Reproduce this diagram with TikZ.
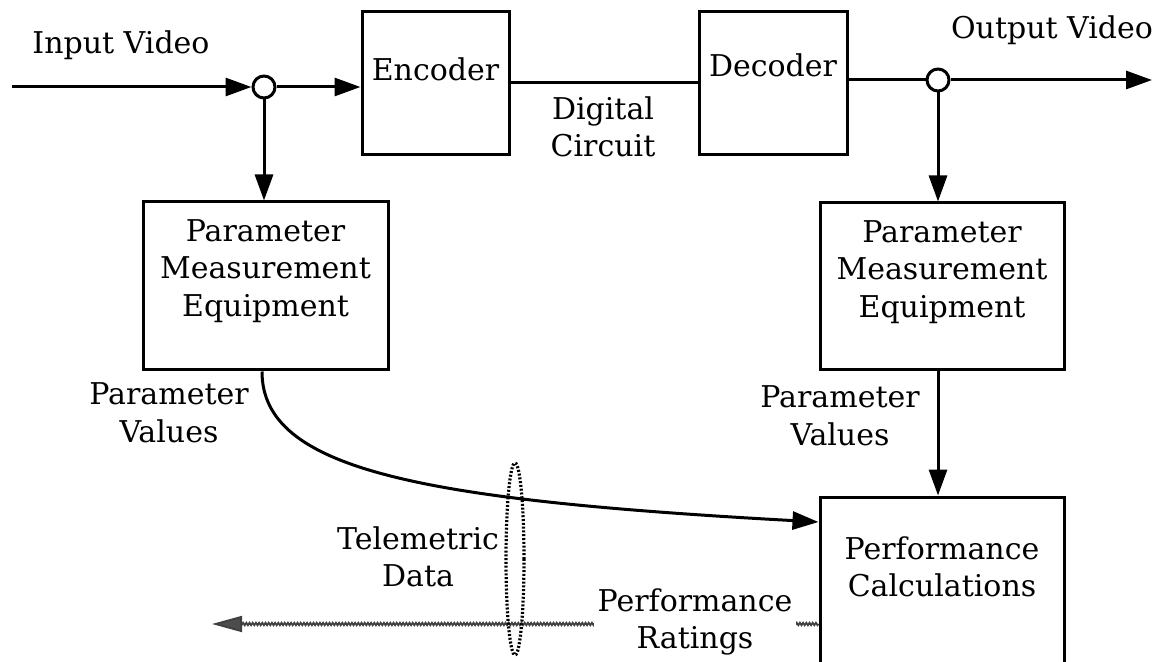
\documentclass[tikz,border=0pt]{standalone}
\usepackage{fontspec}
\setmainfont{DejaVu Serif}
\usetikzlibrary{arrows.meta,decorations.pathmorphing,shapes.geometric}
\begin{document}
\begin{tikzpicture}[x=0.5pt,y=-0.5pt,
  every node/.style={font=\fontsize{15}{18.75}\selectfont},
  box/.style={draw, line width=1.5pt, inner sep=0pt},
  lbl/.style={align=center, inner sep=0pt},
  conn/.style={line width=1.5pt, -{Triangle[length=13pt,width=9pt]}},
  plainline/.style={line width=1.5pt},
  tap/.style={circle, draw, line width=1.5pt, fill=white, minimum size=11pt, inner sep=0pt},
  wavy/.style={draw=black!75, line width=0.9pt, decorate,
    decoration={snake, amplitude=0.6pt, segment length=1.6pt}},
  wavyhead/.style={draw=black!75, line width=0.9pt, -{Triangle[length=15pt,width=8pt,fill=black!70]}},
  telem/.style={ellipse, draw, line width=1.6pt, dash pattern=on 1pt off 0.9pt, inner sep=0pt},
]
\clip (0,0) rectangle (1161,662);
\fill[white] (0,0) rectangle (1161,662);

% boxes
\node[box, minimum width=73.5pt, minimum height=71.5pt] (enc) at (435.5,83.5) {};
\node[box, minimum width=74pt, minimum height=71.5pt] (dec) at (773,83.5) {};
\node[box, minimum width=122.5pt, minimum height=84pt] (pmeL) at (265.5,286) {};
\node[box, minimum width=122pt, minimum height=83.5pt] (pmeR) at (942,286.5) {};
\node[box, minimum width=122pt, minimum height=131.5pt] (pc) at (942,628.5) {};

% texts
\node[lbl] (encT) at (435.5,69) {Encoder};
\node[lbl] (decT) at (773,65) {Decoder};
\node[lbl] (pmeLT) at (265.5,271) {Parameter\\Measurement\\Equipment};
\node[lbl] (pmeRT) at (942,272) {Parameter\\Measurement\\Equipment};
\node[lbl] (pcT) at (942,567) {Performance\\Calculations};
\node[lbl] (inT) at (121,45) {Input Video};
\node[lbl] (outT) at (1052,30) {Output Video};
\node[lbl] (dcT) at (603,127) {Digital\\Circuit};
\node[lbl] (pvL) at (169,413) {Parameter\\Values};
\node[lbl] (pvR) at (840,416) {Parameter\\Values};
\node[lbl] (tdT) at (418,557) {Telemetric\\Data};

% taps
\node[tap] (cL) at (264,87) {};
\node[tap] (cR) at (938,80) {};
\coordinate (inS) at (12,87);
\coordinate (outE) at (1152,80);

% connectors
\draw[conn] (inS) -- (cL);
\draw[conn] (cL) -- (enc.west |- cL);
\draw[plainline] (enc.east |- 0,83) -- (dec.west |- 0,83);
\draw[plainline] (dec.east |- cR) -- (cR);
\draw[conn] (cR) -- (outE);
\draw[conn] (cL) -- (pmeL.north -| cL);
\draw[conn] (cR) -- (pmeR.north -| cR);
\draw[conn] (pmeR.south -| cR) -- (pc.north -| cR);
\draw[conn] (pmeL.south -| 262,0) .. controls (262,470) and (420,500) .. (pc.west |- 0,522);

% telemetry return path
\coordinate (rEnd) at (212,624);
\coordinate (rMid) at (240,624);
\draw[wavy] (pc.west |- 0,624) -- (rMid);
\draw[wavyhead] (rMid) -- (rEnd);
\node[lbl, fill=white, inner xsep=2pt, inner ysep=1pt] (prT) at (695,622) {Performance\\Ratings};

% telemetry ellipse
\node[telem, minimum width=9pt, minimum height=96pt] (tel) at (515,559) {};
\end{tikzpicture}
\end{document}
